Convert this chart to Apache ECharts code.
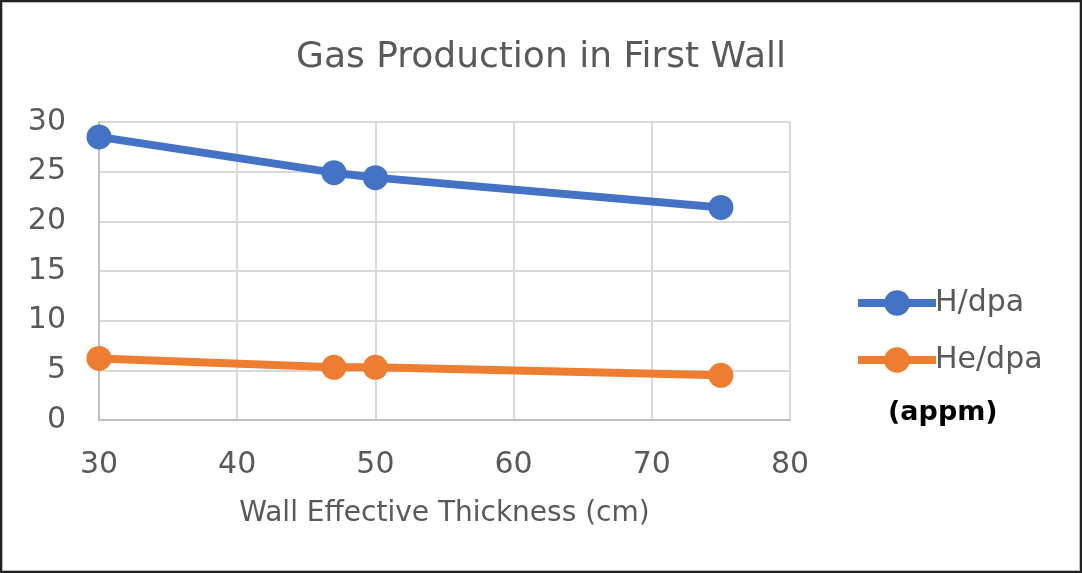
<!DOCTYPE html>
<html>
<head>
<meta charset="utf-8">
<script src="https://cdn.jsdelivr.net/npm/echarts@6/dist/echarts.min.js"></script>
<style>
  html, body { margin: 0; padding: 0; background: #fff; }
  #frame { position: absolute; left: 0; top: 0; width: 1082px; height: 573px; box-sizing: border-box;
           border: 2px solid #222; box-shadow: inset 0 0 0 1px #bbb; }
  #chart { position: absolute; left: 0; top: 0; width: 1082px; height: 573px; }
</style>
</head>
<body>
<div id="chart"></div>
<div id="frame"></div>
<script>
// Wall effective thickness (cm)
const thickness = [30, 47, 50, 75];
// Gas production per dpa (appm)
const hPerDpa = [28.5, 24.9, 24.4, 21.4];
const hePerDpa = [6.2, 5.3, 5.3, 4.5];
const seriesNames = ['H/dpa', 'He/dpa'];
const seriesColors = ['#4472C4', '#ED7D31'];

const pairs = (xs, ys) => xs.map((x, i) => [x, ys[i]]);

const textColor = '#595959';
const fontFamily = '"DejaVu Sans", sans-serif';

const chart = echarts.init(document.getElementById('chart'), null, { renderer: 'canvas' });
chart.setOption({
  animation: false,
  backgroundColor: '#fff',
  title: {
    text: 'Gas Production in First Wall',
    left: 'center',
    top: 35,
    textStyle: { color: textColor, fontSize: 36, fontWeight: 'normal', fontFamily: fontFamily }
  },
  grid: { left: 99, right: 292, top: 122, bottom: 153 },
  legend: {
    orient: 'vertical',
    left: 849,
    top: 283,
    itemWidth: 78,
    itemHeight: 32,
    itemGap: 27,
    lineStyle: { width: 8 },
    textStyle: { color: textColor, fontSize: 30, fontFamily: fontFamily, padding: [0, 0, 0, -6] },
    data: seriesNames
  },
  xAxis: {
    type: 'value',
    min: 30, max: 80, interval: 10,
    name: 'Wall Effective Thickness (cm)',
    nameLocation: 'middle',
    nameGap: 80,
    nameTextStyle: { color: textColor, fontSize: 28, fontFamily: fontFamily },
    axisLine: { show: true, lineStyle: { color: '#bfbfbf', width: 2 } },
    axisTick: { show: false },
    axisLabel: { color: textColor, fontSize: 30, fontFamily: fontFamily, margin: 30 },
    splitLine: { show: true, lineStyle: { color: '#d9d9d9', width: 2 } }
  },
  yAxis: {
    type: 'value',
    min: 0, max: 30, interval: 5,
    axisLine: { show: true, lineStyle: { color: '#bfbfbf', width: 2 } },
    axisTick: { show: false },
    axisLabel: { color: textColor, fontSize: 30, fontFamily: fontFamily, margin: 33 },
    splitLine: { show: true, lineStyle: { color: '#d9d9d9', width: 2 } }
  },
  graphic: [{
    type: 'text',
    left: 888,
    top: 399,
    style: { text: '(appm)', fill: '#000', font: 'bold 27px ' + fontFamily }
  }],
  series: [
    {
      name: seriesNames[0], type: 'line',
      data: pairs(thickness, hPerDpa),
      symbol: 'circle', symbolSize: 25,
      lineStyle: { width: 8, color: seriesColors[0] },
      itemStyle: { color: seriesColors[0] }
    },
    {
      name: seriesNames[1], type: 'line',
      data: pairs(thickness, hePerDpa),
      symbol: 'circle', symbolSize: 25,
      lineStyle: { width: 8, color: seriesColors[1] },
      itemStyle: { color: seriesColors[1] }
    }
  ]
});
</script>
</body>
</html>
